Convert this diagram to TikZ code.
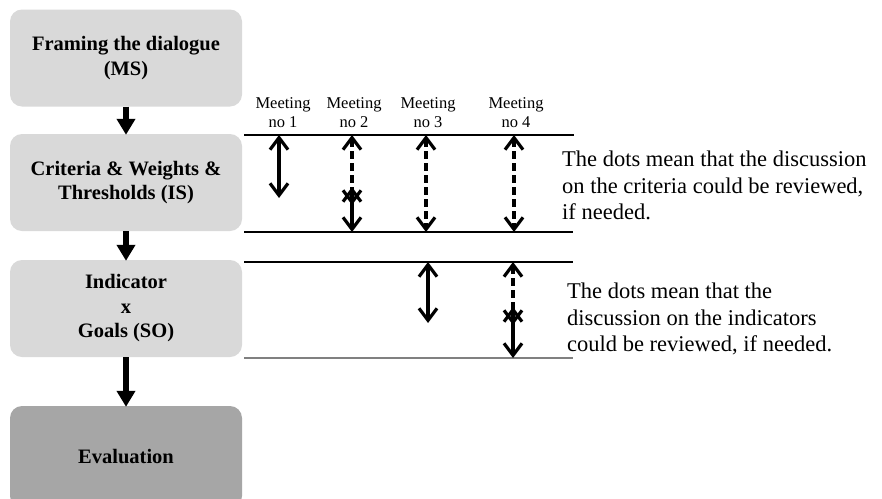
\documentclass[tikz,border=0pt]{standalone}
\usepackage{fontspec}
\setmainfont{Liberation Serif}
\usetikzlibrary{arrows.meta}

\definecolor{boxgray}{HTML}{D9D9D9}
\definecolor{evalgray}{HTML}{A6A6A6}
\definecolor{rulegray}{HTML}{808080}

\tikzset{
  stagebox/.style={rounded corners=12pt, minimum width=232pt, minimum height=97pt,
    inner sep=0pt, align=center, font=\bfseries\fontsize{20.5}{24.5}\selectfont},
  flowarrow/.style={line width=6.5pt, -{Triangle[length=16pt,width=18pt]}},
  meetlabel/.style={align=center, inner sep=0pt, font=\fontsize{16.5}{19}\selectfont},
  note/.style={align=left, inner sep=0pt, anchor=north west,
    font=\fontsize{22.5}{26.5}\selectfont},
  barbs/.style={line width=3.2pt, {Straight Barb[length=12pt,width=18pt]}-{Straight Barb[length=12pt,width=18pt]}},
  dotted link/.style={barbs, dash pattern=on 8pt off 4pt},
  session/.style={line width=1.2pt}
}

\begin{document}
\begin{tikzpicture}[x=1pt, y=-1pt]
  \clip (0,0) rectangle (882,498);
  \fill[white] (0,0) rectangle (882,498);

  % stage boxes on the left
  \node[stagebox, fill=boxgray]  (frame) at (126,58)    {Framing the dialogue\\(MS)};
  \node[stagebox, fill=boxgray]  (crit)  at (126,182.5) {Criteria \& Weights \&\\Thresholds (IS)};
  \node[stagebox, fill=boxgray]  (ind)   at (126,308.5) {Indicator\\x\\Goals (SO)};
  \node[stagebox, fill=evalgray, minimum height=102pt] (eval) at (126,457) {Evaluation};

  \draw[flowarrow] (frame.south) -- ([yshift=-1pt]crit.north);
  \draw[flowarrow] (crit.south)  -- ([yshift=-1pt]ind.north);
  \draw[flowarrow] (ind.south)   -- ([yshift=-1pt]eval.north);

  % meeting headings
  \node[meetlabel] (mt1) at (283,113) {Meeting\\no 1};
  \node[meetlabel] (mt2) at (354,113) {Meeting\\no 2};
  \node[meetlabel] (mt3) at (428,113) {Meeting\\no 3};
  \node[meetlabel] (mt4) at (516,113) {Meeting\\no 4};

  % horizontal rules bounding the two discussion bands
  \coordinate (r1a) at (244,135); \coordinate (r1b) at (574,135);
  \coordinate (r2a) at (244,232); \coordinate (r2b) at (573,232);
  \coordinate (r3a) at (244,262); \coordinate (r3b) at (573,262);
  \coordinate (r4a) at (244,358); \coordinate (r4b) at (573,358);
  \draw[session] (r1a) -- (r1b);
  \draw[session] (r2a) -- (r2b);
  \draw[line width=2pt] (r3a) -- (r3b);
  \draw[session, rulegray] (r4a) -- (r4b);

  % criteria band
  \coordinate (a1t) at (279,135); \coordinate (a1b) at (279,198);
  \coordinate (a2t) at (352,135); \coordinate (a2m) at (352,205);
  \coordinate (a2n) at (352,187); \coordinate (a2b) at (352,232);
  \coordinate (a3t) at (426,135); \coordinate (a3b) at (426,232);
  \coordinate (a4t) at (514,135); \coordinate (a4b) at (514,232);
  \draw[barbs] (a1t) -- (a1b);
  \draw[dotted link] (a2t) -- (a2m);
  \draw[barbs] (a2n) -- (a2b);
  \draw[dotted link] (a3t) -- (a3b);
  \draw[dotted link] (a4t) -- (a4b);

  % indicator band
  \coordinate (b1t) at (428,262); \coordinate (b1b) at (428,323);
  \coordinate (b2t) at (513,262); \coordinate (b2m) at (513,325);
  \coordinate (b2n) at (513,307); \coordinate (b2b) at (513,358);
  \draw[barbs] (b1t) -- (b1b);
  \draw[dotted link] (b2t) -- (b2m);
  \draw[barbs] (b2n) -- (b2b);

  % explanatory notes
  \node[note] (note1) at (562,151) {The dots mean that the discussion\\on the criteria could be reviewed,\\if needed.};
  \node[note] (note2) at (567,283) {The dots mean that the\\discussion on the indicators\\could be reviewed, if needed.};
\end{tikzpicture}
\end{document}
